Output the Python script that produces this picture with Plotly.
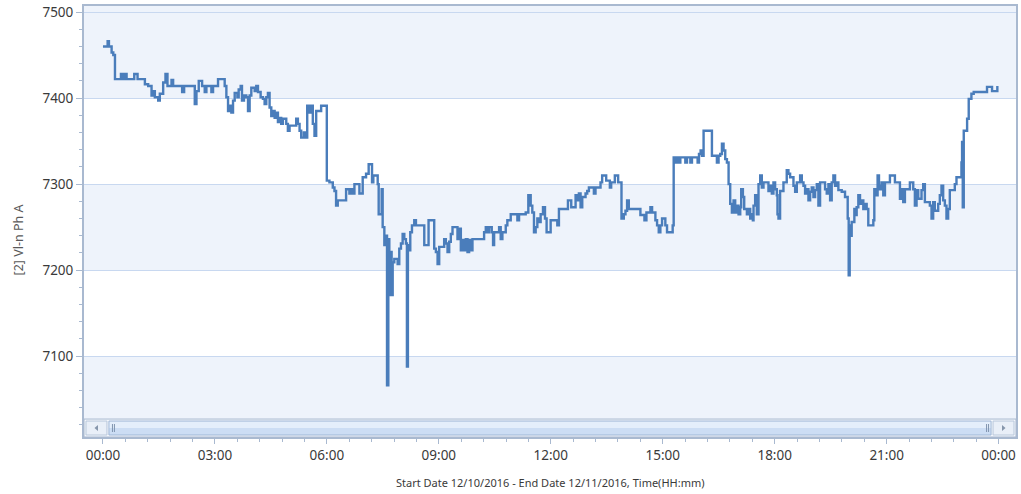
import pandas as pd
import plotly.graph_objects as go

# ---- data (minutes after 00:00 on 12/10/2016, volts) ----
minutes = [
    0, 7.5, 9.6, 13.9, 16.6, 19.3, 28.9, 32.6, 35.3, 38, 50.3, 55.6, 67.4, 72.7, 78.1, 80.8, 83.4, 88.8, 91.4, 96.8,
    100.5, 103.7, 110.2, 112.8, 127.3, 130.5, 147.6, 150.3, 154, 159.4, 163.6, 166.3, 174.3, 177, 185, 195.7, 198.4,
    201.1, 203.8, 206.4, 209.1, 211.8, 216.1, 218.2, 221.4, 223.5, 226.7, 230.5, 233.2, 235.8, 238.5, 243.9, 246.5,
    249.2, 253.5, 257.2, 259.9, 262.6, 265.2, 267.9, 270.6, 273.3, 276, 278.6, 281.3, 284, 286.6, 289.3, 294.7, 297.3,
    300, 310.7, 313.4, 316.1, 318.7, 323, 325.2, 328.4, 332.1, 334.8, 337.4, 340.1, 342.8, 350.8,
    359.9, 364.1, 369.5, 372.2, 374.8, 377.5, 390.9, 396.2, 398.9, 401.6, 404.3, 412.3, 417.6, 423, 427.2, 432.6,
    434.7, 441.7, 443.3, 448.1, 449.7, 452.4, 455, 456.7, 458.8, 460.4, 462, 464.1, 465.8, 468.4, 473.8, 476.4, 479.1,
    481.8, 484.5, 487.1, 488.7, 490.3, 492.5, 494.1, 496.8, 500.5, 503.2, 516.6, 523.5, 532.6, 535.3, 538, 540.6,
    548.6, 551.3, 554, 556.7, 559.3, 562, 570, 572.7, 575.4, 578.1, 580.7, 583.4, 586.1, 588.7, 591.4, 594.1, 612.8,
    615.5, 618.2, 620.8, 625.1, 627.2, 628.9, 636.9, 639.5, 642.2, 647.6, 650.2, 655.6, 666.3, 669, 679.7, 683.9,
    687.7, 690.3, 693, 695.7, 698.4, 701, 703.7, 707.5, 710.7, 713.3, 719.8, 730.5, 733.1,
    747.6, 752.9, 759.9, 762.5, 765.2, 767.9, 770.6, 775.9, 778.6, 781.3, 789.3, 791.9, 800, 802.6, 809.1, 815,
    817.1, 823, 828.3, 833.7, 837.4, 840.1, 842.7, 845.4, 864.1, 870.6, 873.8, 880.2, 882.9, 888.2, 890.9, 893.6,
    896.2, 898.9, 904.2, 906.9, 916, 917.6, 920.3, 921.9, 925.6, 928.3, 936.3, 939, 944.4, 947, 956.1, 958.3, 960.9,
    963.1, 965.7, 979.1, 987.1, 989.8, 992.5, 995.2, 997.8, 1000.5, 1003.2, 1005.9, 1008.5, 1011.2, 1013.9, 1016.5,
    1019.2, 1021.9, 1024.6, 1026.2, 1028.9, 1031, 1035.3, 1037.9, 1040.6, 1043.3, 1044.9, 1046, 1048.6, 1051.3, 1054,
    1056.7, 1059.3, 1062, 1070, 1072.7, 1075.4, 1078, 1080.7, 1083.4, 1084.5, 1086.1, 1088.7, 1094.1, 1099.4, 1102.1,
    1104.8,
    1110.2, 1112.9, 1115.6, 1120.9, 1123.6, 1126.3, 1128.9, 1131.6, 1134.3, 1137, 1139.6, 1142.3, 1145, 1147.7,
    1150.3, 1153, 1161, 1163.7, 1166.4, 1169.1, 1171.7, 1174.4, 1177.1, 1179.7, 1182.4, 1187.8, 1193.1, 1197.4, 1199,
    1200.6, 1202.7, 1203.8, 1208.1, 1210.2, 1211.8, 1214.5, 1217.2, 1219.9, 1222.5, 1225.2, 1227.9, 1230.5, 1238.6,
    1240.2, 1243.9, 1245.5, 1247.7, 1249.3, 1251.9, 1254.6, 1257.3, 1265.3, 1273.3, 1281.4, 1284, 1286.7, 1289.4,
    1297.4, 1302.8, 1305.4, 1308.1, 1310.8, 1316.1, 1318.8, 1321.5, 1329.5, 1332.2, 1334.8, 1337.5, 1342.9, 1345.5,
    1348.2, 1350.9, 1353.6, 1356.2, 1358.9, 1361.6, 1369.6, 1372.3, 1380.3, 1381.3, 1382.4, 1384, 1389.4, 1392,
    1396.3, 1400, 1421.4, 1429.5, 1438,
]
volts = [
    7460, 7466, 7460, 7453, 7450, 7422, 7428, 7422, 7428, 7422, 7428, 7422, 7416, 7414, 7403, 7408, 7401, 7397, 7405, 7418,
    7428, 7414, 7421, 7414, 7407, 7414, 7393, 7408, 7420, 7414, 7407, 7414, 7407, 7414, 7422, 7414, 7401,
    7385, 7391, 7383, 7397, 7406, 7401, 7410, 7414, 7397, 7403, 7401, 7385, 7403, 7412, 7408, 7414,
    7407, 7401, 7399, 7393, 7401, 7406, 7389, 7379, 7385, 7377, 7383, 7372, 7377, 7370, 7376, 7370, 7362,
    7368, 7376, 7370, 7362, 7354, 7360, 7354, 7391, 7383, 7391, 7370, 7356, 7385, 7391,
    7304, 7302, 7296, 7292, 7275, 7281, 7294, 7289, 7294, 7289, 7300, 7289, 7308, 7312, 7323, 7302,
    7310, 7300, 7265, 7294, 7250, 7229, 7240, 7066, 7236, 7171, 7221, 7171, 7209, 7213, 7207, 7225, 7231,
    7242, 7236, 7231, 7088, 7229, 7223, 7244, 7252, 7258, 7252, 7229, 7258, 7225, 7221, 7207, 7227,
    7236, 7231, 7221, 7233, 7242, 7250, 7236, 7248, 7223, 7235, 7223, 7236, 7221, 7235, 7223, 7236, 7244,
    7250, 7244, 7250, 7244, 7229, 7244, 7250, 7236, 7244, 7252, 7258, 7265, 7258, 7265, 7267, 7287,
    7275, 7267, 7244, 7250, 7260, 7256, 7265, 7273, 7260, 7244, 7258, 7252, 7271,
    7281, 7273, 7287, 7281, 7289, 7273, 7285, 7289, 7292, 7296, 7289, 7296, 7302, 7310, 7304, 7296,
    7302, 7310, 7302, 7260, 7265, 7269, 7281, 7271, 7264, 7258, 7267, 7273, 7267, 7258, 7252, 7244,
    7252, 7260, 7252, 7244, 7252, 7331, 7325, 7331, 7325, 7331, 7325, 7331, 7325, 7331, 7325, 7335, 7339,
    7333, 7362, 7333, 7325, 7333, 7335, 7347, 7339, 7329, 7325, 7300, 7277, 7267, 7281, 7267,
    7275, 7265, 7273, 7294, 7285, 7271, 7265, 7271, 7260, 7265, 7258, 7275, 7287, 7265, 7300,
    7310, 7296, 7302, 7292, 7298, 7289, 7302, 7294, 7287, 7265, 7260, 7292, 7302, 7316, 7312,
    7308,
    7298, 7291, 7302, 7310, 7302, 7298, 7289, 7294, 7281, 7291, 7296, 7285, 7293, 7300,
    7275, 7302, 7294, 7289, 7300, 7281, 7302, 7310, 7298, 7302, 7293, 7291, 7285, 7260, 7194,
    7252, 7240, 7256, 7271, 7264, 7273, 7287, 7277, 7281, 7271, 7277, 7271, 7252, 7258,
    7294, 7287, 7310, 7298, 7294, 7302, 7287, 7302, 7310, 7302, 7283, 7294, 7279, 7294,
    7302, 7294, 7275, 7293, 7283, 7293, 7300, 7279, 7275, 7260, 7279, 7269, 7277, 7287,
    7298, 7281, 7275, 7260, 7271, 7293, 7300, 7308, 7325, 7349, 7273, 7362, 7376, 7399,
    7405, 7407, 7413, 7408, 7414,
]
y_ticks = [7100, 7200, 7300, 7400, 7500]
band_edges = [(7400, 7507), (7200, 7300), (7006, 7100)]
x_title = "Start Date 12/10/2016 - End Date 12/11/2016, Time(HH:mm)"
y_title = "[2] Vl-n Ph A"

base = pd.Timestamp("2016-12-10")
times = [base + pd.Timedelta(minutes=m) for m in minutes]

W, H = 1021, 494
L, R, T, B = 84, 1018, 5, 437   # plot area in pixels
FONT = "Noto Sans"


def px(X):
    return (X - L) / (R - L)


def py(Y):
    return (B - Y) / (B - T)


fig = go.Figure()
fig.add_trace(go.Scatter(
    x=times, y=volts, mode="lines", line=dict(color="#4A7DBB", width=2.4, shape="hv"),
    hoverinfo="x+y", showlegend=False,
))

shapes = []
band_color = "#EEF3FB"
for lo, hi in band_edges:
    shapes.append(dict(type="rect", xref="paper", yref="y", x0=0, x1=1, y0=lo, y1=hi,
                       fillcolor=band_color, line=dict(width=0), layer="below"))

# scrollbar decoration (bottom strip of the plot area)
sb_top, sb_bot = 419, 437
shapes += [
    dict(type="rect", xref="paper", yref="paper", x0=0, x1=1, y0=py(sb_bot), y1=py(sb_top),
         fillcolor="#F3F6FB", line=dict(color="#A9B9D0", width=1), layer="above"),
    dict(type="rect", xref="paper", yref="paper", x0=px(86), x1=px(107), y0=py(435), y1=py(421),
         fillcolor="#E9EFF8", line=dict(color="#B8C7DB", width=1), layer="above"),
    dict(type="rect", xref="paper", yref="paper", x0=px(995), x1=px(1016), y0=py(435), y1=py(421),
         fillcolor="#E9EFF8", line=dict(color="#B8C7DB", width=1), layer="above"),
    dict(type="rect", xref="paper", yref="paper", x0=px(109), x1=px(993), y0=py(428), y1=py(421),
         fillcolor="#E4EEFB", line=dict(width=0), layer="above"),
    dict(type="rect", xref="paper", yref="paper", x0=px(109), x1=px(993), y0=py(435), y1=py(428),
         fillcolor="#CCDDF4", line=dict(width=0), layer="above"),
    dict(type="rect", xref="paper", yref="paper", x0=px(109), x1=px(993), y0=py(435), y1=py(421),
         fillcolor="rgba(0,0,0,0)", line=dict(color="#9FB6D6", width=1), layer="above"),
]
for gx in (112.5, 114.5, 988.5, 990.5):
    shapes.append(dict(type="line", xref="paper", yref="paper", x0=px(gx), x1=px(gx),
                       y0=py(432), y1=py(424), line=dict(color="#7F93AE", width=1), layer="above"))
shapes.append(dict(type="path", xref="paper", yref="paper", layer="above",
                   path=f"M {px(98)} {py(425)} L {px(94.5)} {py(428)} L {px(98)} {py(431)} Z",
                   fillcolor="#8696AC", line=dict(width=0)))
shapes.append(dict(type="path", xref="paper", yref="paper", layer="above",
                   path=f"M {px(1004)} {py(425)} L {px(1007.5)} {py(428)} L {px(1004)} {py(431)} Z",
                   fillcolor="#8696AC", line=dict(width=0)))

x0 = base + pd.Timedelta(minutes=-30.5)
x1 = base + pd.Timedelta(minutes=1468)

fig.update_layout(
    width=W, height=H,
    margin=dict(l=L, r=W - R, t=T, b=H - B, pad=0),
    paper_bgcolor="white", plot_bgcolor="white",
    font=dict(family=FONT, size=13.5, color="#3A3A3A"),
    shapes=shapes,
    xaxis=dict(
        type="date", range=[x0, x1], tickformat="%H:%M",
        tick0=base, dtick=3 * 3600 * 1000,
        ticks="outside", ticklen=5, tickcolor="#A9B9D0", tickwidth=1,
        showgrid=False, zeroline=False,
        showline=True, linecolor="#A9B9D0", linewidth=1.5, mirror=True,
        tickfont=dict(family=FONT, size=13.5, color="#3A3A3A"),
        minor=dict(dtick=36 * 60 * 1000, tick0=base, ticks="outside", ticklen=3,
                   tickcolor="#A9B9D0", showgrid=False),
    ),
    yaxis=dict(
        range=[7006, 7507], tickvals=y_ticks,
        ticks="outside", ticklen=6, tickcolor="#A9B9D0", tickwidth=1,
        showgrid=True, gridcolor="#C8D8F0", gridwidth=1, zeroline=False,
        showline=True, linecolor="#A9B9D0", linewidth=2, mirror=True,
        tickfont=dict(family=FONT, size=13.5, color="#3A3A3A"),
        minor=dict(dtick=20, tick0=7000, ticks="outside", ticklen=3,
                   tickcolor="#A9B9D0", showgrid=False),
    ),
    annotations=[
        dict(text=x_title, xref="paper", yref="paper", x=0.5, y=0, yshift=-(482 - B),
             xanchor="center", yanchor="middle", showarrow=False,
             font=dict(family=FONT, size=11, color="#3A3A3A")),
        dict(text=y_title, xref="paper", yref="paper", x=0, xshift=18 - L, y=py(240),
             xanchor="center", yanchor="middle", textangle=-90, showarrow=False,
             font=dict(family=FONT, size=12.5, color="#595959")),
    ],
)

fig.write_html(
    "out.html",
    config={"displayModeBar": False},
    post_script="document.body.style.margin='0';document.body.style.overflow='hidden';",
)
